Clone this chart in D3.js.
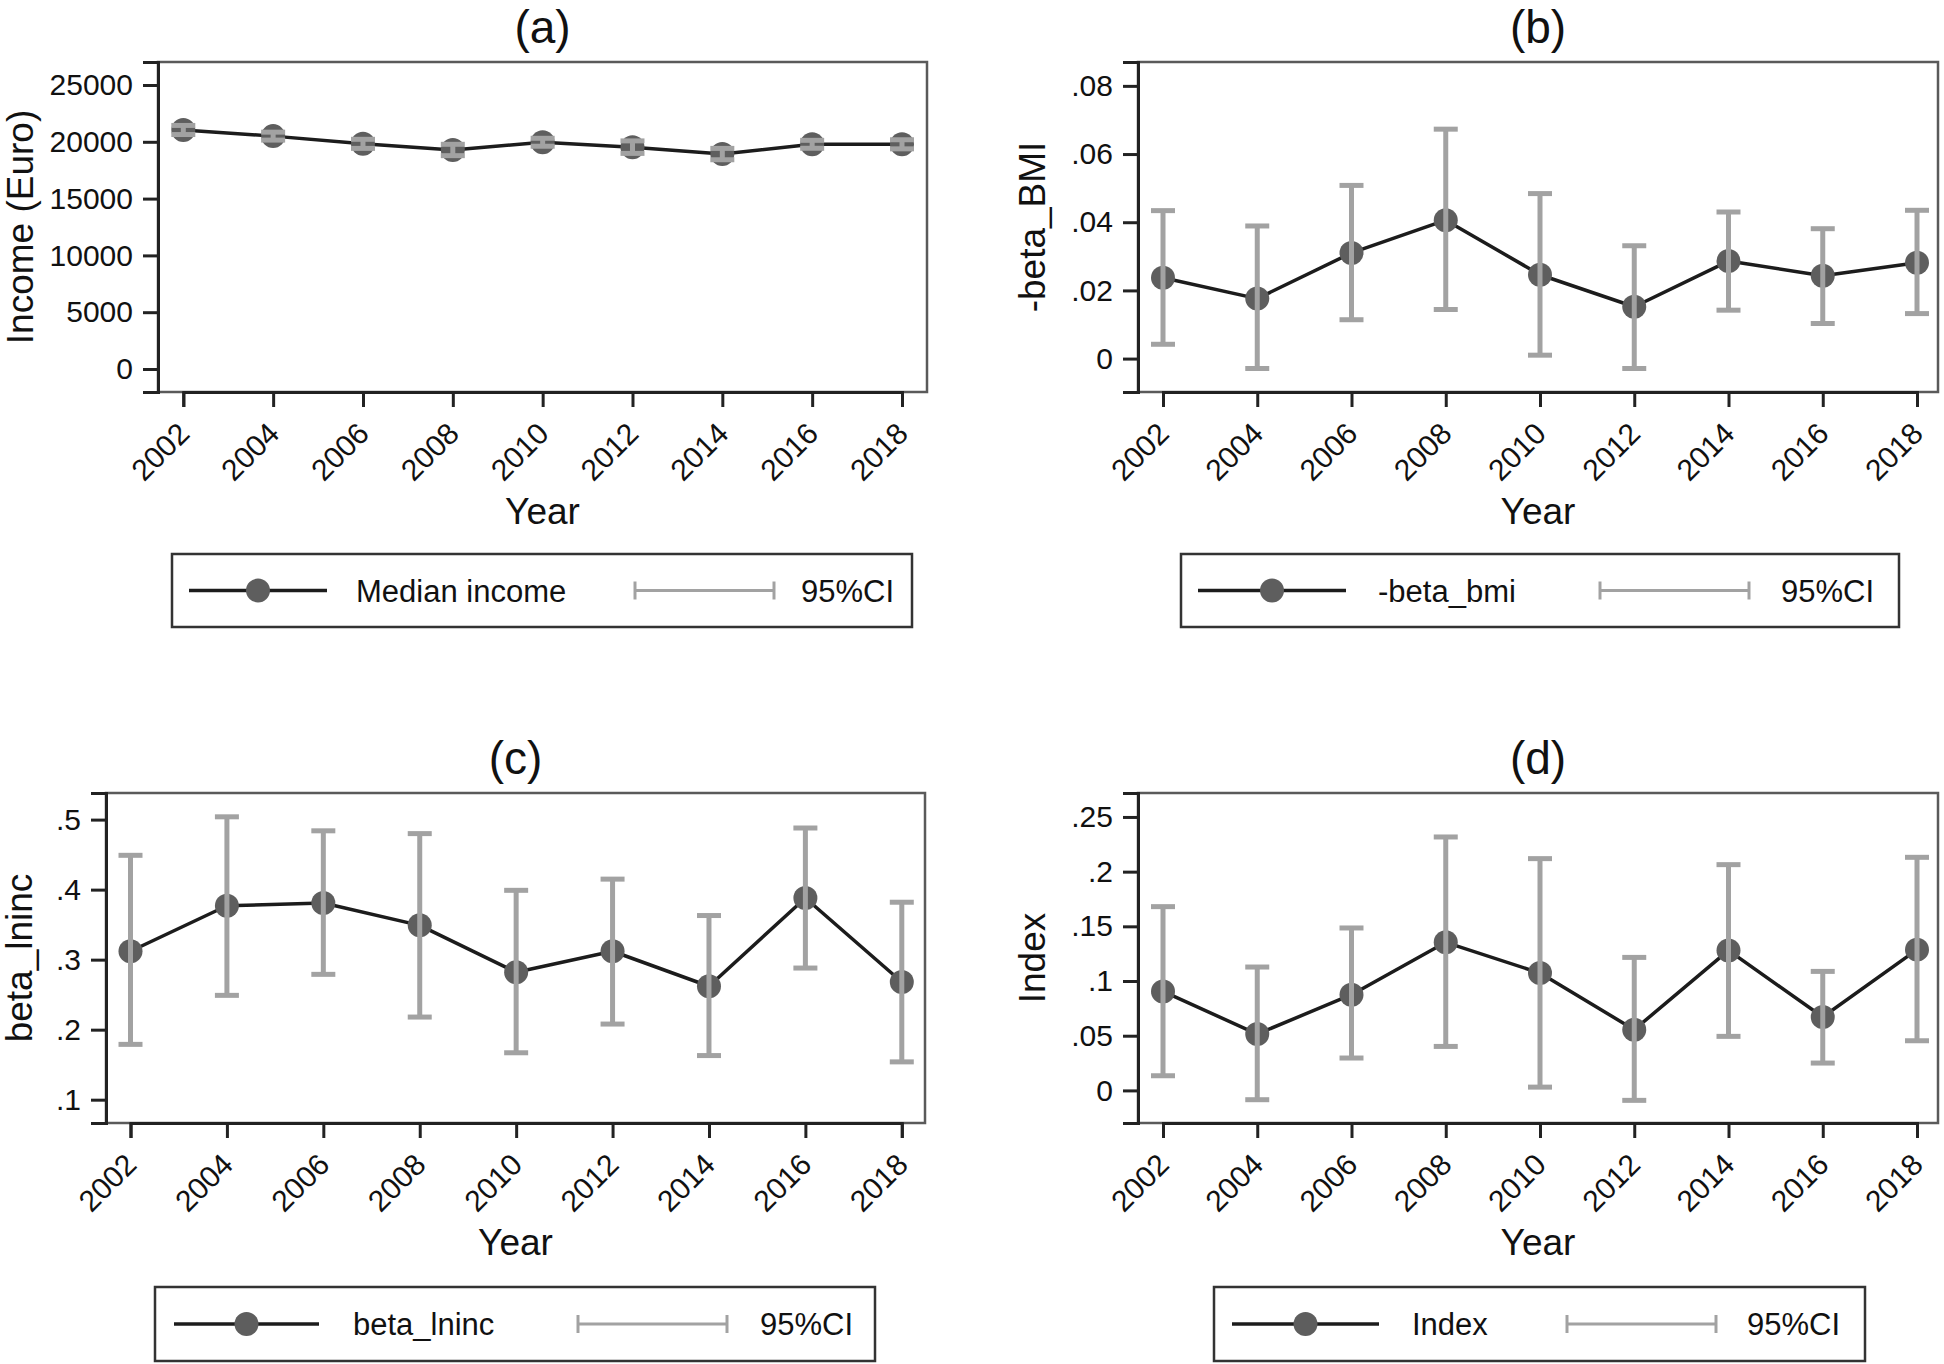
<!DOCTYPE html>
<html>
<head>
<meta charset="utf-8">
<script src="https://cdn.jsdelivr.net/npm/d3@7"></script>
<style>
  html, body { margin: 0; padding: 0; background: #fff; }
  svg { display: block; }
  text { font-family: "Liberation Sans", Arial, Helvetica, sans-serif; fill: #111; }
</style>
</head>
<body>
<svg id="chart" width="1944" height="1364"></svg>
<script>
// ---------------- DATA ----------------
const years = [2002, 2004, 2006, 2008, 2010, 2012, 2014, 2016, 2018];
const yearLabels = ["2002","2004","2006","2008","2010","2012","2014","2016","2018"];

// (a) Median income
const incomeMedian = [21040, 20500, 19820, 19280, 19960, 19530, 18920, 19780, 19780];
const incomeLo     = [20640, 20150, 19420, 18780, 19610, 18980, 18420, 19430, 19380];
const incomeHi     = [21440, 20850, 20220, 19780, 20310, 20080, 19420, 20130, 20180];
const incomeTicks  = [0, 5000, 10000, 15000, 20000, 25000];
const incomeTickLabels = ["0","5000","10000","15000","20000","25000"];

// (b) -beta_bmi
const bmiBeta = [0.0237, 0.0176, 0.0310, 0.0406, 0.0246, 0.0152, 0.0286, 0.0243, 0.0281];
const bmiLo   = [0.0042, -0.0029, 0.0114, 0.0144, 0.0010, -0.0029, 0.0142, 0.0103, 0.0132];
const bmiHi   = [0.0434, 0.0389, 0.0508, 0.0673, 0.0484, 0.0331, 0.0430, 0.0381, 0.0435];
const bmiTicks = [0, 0.02, 0.04, 0.06, 0.08];
const bmiTickLabels = ["0", ".02", ".04", ".06", ".08"];

// (c) beta_lninc
const lnincBeta = [0.312, 0.377, 0.381, 0.349, 0.282, 0.312, 0.262, 0.388, 0.268];
const lnincLo   = [0.179, 0.249, 0.279, 0.218, 0.167, 0.208, 0.163, 0.288, 0.154];
const lnincHi   = [0.449, 0.504, 0.484, 0.480, 0.399, 0.415, 0.363, 0.488, 0.382];
const lnincTicks = [0.1, 0.2, 0.3, 0.4, 0.5];
const lnincTickLabels = [".1", ".2", ".3", ".4", ".5"];

// (d) Index
const indexVal = [0.0905, 0.0515, 0.0875, 0.1354, 0.1073, 0.0555, 0.1280, 0.0671, 0.1287];
const indexLo  = [0.0134, -0.0085, 0.0296, 0.0402, 0.0030, -0.0091, 0.0494, 0.0250, 0.0454];
const indexHi  = [0.1680, 0.1128, 0.1485, 0.2317, 0.2119, 0.1216, 0.2064, 0.1088, 0.2131];
const indexTicks = [0, 0.05, 0.10, 0.15, 0.20, 0.25];
const indexTickLabels = ["0", ".05", ".1", ".15", ".2", ".25"];

const panelTitles = ["(a)", "(b)", "(c)", "(d)"];
const yTitles = ["Income (Euro)", "-beta_BMI", "beta_lninc", "Index"];
const seriesNames = ["Median income", "-beta_bmi", "beta_lninc", "Index"];
const ciName = "95%CI";
const xTitle = "Year";

// ---------------- LAYOUT ----------------
const panels = [
  { title: panelTitles[0], yTitle: yTitles[0], name: seriesNames[0],
    est: incomeMedian, lo: incomeLo, hi: incomeHi, ticks: incomeTicks, tickLabels: incomeTickLabels,
    yDomain: [-2025, 27025],
    box: [158, 62, 927, 392], xr: [183.3, 902], yTitleX: 20,
    leg: { box: [172, 554, 912, 627], k1: [189, 327], t1: 356, k2: [635, 774], t2: 801 } },
  { title: panelTitles[1], yTitle: yTitles[1], name: seriesNames[1],
    est: bmiBeta, lo: bmiLo, hi: bmiHi, ticks: bmiTicks, tickLabels: bmiTickLabels,
    yDomain: [-0.0098, 0.0870],
    box: [1138, 62, 1938, 392], xr: [1163, 1917], yTitleX: 1032,
    leg: { box: [1181, 554, 1899, 627], k1: [1198, 1346], t1: 1378, k2: [1600, 1749], t2: 1781 } },
  { title: panelTitles[2], yTitle: yTitles[2], name: seriesNames[2],
    est: lnincBeta, lo: lnincLo, hi: lnincHi, ticks: lnincTicks, tickLabels: lnincTickLabels,
    yDomain: [0.0667, 0.538],
    box: [106, 793, 925, 1123], xr: [130.5, 901.8], yTitleX: 19,
    leg: { box: [155, 1287, 875, 1361], k1: [174, 319], t1: 353, k2: [578, 727], t2: 760 } },
  { title: panelTitles[3], yTitle: yTitles[3], name: seriesNames[3],
    est: indexVal, lo: indexLo, hi: indexHi, ticks: indexTicks, tickLabels: indexTickLabels,
    yDomain: [-0.0298, 0.2719],
    box: [1138, 793, 1938, 1123], xr: [1163, 1917], yTitleX: 1032,
    leg: { box: [1214, 1287, 1865, 1361], k1: [1232, 1379], t1: 1412, k2: [1567, 1716], t2: 1747 } }
];

const COL_LINE = "#1c1c1c";
const COL_MARK = "#5e5e5e";
const COL_CI = "#a2a2a2";
const COL_AXIS = "#222";
const COL_BORDER = "#5a5a5a";

const svg = d3.select("#chart");

panels.forEach(p => {
  const [L, T, R, B] = p.box;
  const x = d3.scaleLinear().domain([years[0], years[years.length - 1]]).range(p.xr);
  const y = d3.scaleLinear().domain(p.yDomain).range([B, T]);
  const g = svg.append("g");

  // plot region border
  g.append("rect").attr("x", L).attr("y", T).attr("width", R - L).attr("height", B - T)
    .attr("fill", "#fff").attr("stroke", COL_BORDER).attr("stroke-width", 2.5);

  // y axis
  const yAxis = d3.axisLeft(y).tickValues(p.ticks).tickSize(15).tickPadding(10)
    .tickFormat((d, i) => p.tickLabels[i]);
  const ya = g.append("g").attr("transform", `translate(${L},0)`).call(yAxis);
  ya.select(".domain").attr("stroke", COL_AXIS).attr("stroke-width", 3);
  ya.selectAll(".tick line").attr("stroke", COL_AXIS).attr("stroke-width", 3);
  ya.selectAll(".tick text").attr("font-size", 30).attr("fill", "#111")
    .attr("font-family", '"Liberation Sans", Arial, sans-serif');

  // x axis
  const xAxis = d3.axisBottom(x).tickValues(years).tickSize(15)
    .tickFormat((d, i) => yearLabels[i]);
  const xa = g.append("g").attr("transform", `translate(0,${B})`).call(xAxis);
  xa.select(".domain").attr("stroke", COL_AXIS).attr("stroke-width", 3);
  xa.selectAll(".tick line").attr("stroke", COL_AXIS).attr("stroke-width", 3);
  xa.selectAll(".tick text").attr("font-size", 30).attr("fill", "#111")
    .attr("font-family", '"Liberation Sans", Arial, sans-serif')
    .attr("text-anchor", "end")
    .attr("x", 0).attr("y", 0).attr("dy", "0.35em")
    .attr("transform", "translate(0,36) rotate(-45)");

  // connecting line
  const pts = years.map((yr, i) => [yr, p.est[i]]);
  g.append("path").datum(pts)
    .attr("d", d3.line().x(d => x(d[0])).y(d => y(d[1])))
    .attr("fill", "none").attr("stroke", COL_LINE).attr("stroke-width", 3.5)
    .attr("stroke-linejoin", "round");

  // markers
  g.selectAll("circle.m").data(pts).enter().append("circle")
    .attr("class", "m").attr("cx", d => x(d[0])).attr("cy", d => y(d[1])).attr("r", 12)
    .attr("fill", COL_MARK);

  // CI bars (drawn on top)
  const ci = years.map((yr, i) => ({ yr, lo: p.lo[i], hi: p.hi[i] }));
  const cg = g.append("g").attr("stroke", COL_CI);
  cg.selectAll("line.v").data(ci).enter().append("line")
    .attr("x1", d => x(d.yr)).attr("x2", d => x(d.yr))
    .attr("y1", d => y(d.lo)).attr("y2", d => y(d.hi)).attr("stroke-width", 5);
  cg.selectAll("line.c1").data(ci).enter().append("line")
    .attr("x1", d => x(d.yr) - 12).attr("x2", d => x(d.yr) + 12)
    .attr("y1", d => y(d.lo)).attr("y2", d => y(d.lo)).attr("stroke-width", 5);
  cg.selectAll("line.c2").data(ci).enter().append("line")
    .attr("x1", d => x(d.yr) - 12).attr("x2", d => x(d.yr) + 12)
    .attr("y1", d => y(d.hi)).attr("y2", d => y(d.hi)).attr("stroke-width", 5);

  // panel title
  g.append("text").attr("x", (L + R) / 2).attr("y", T - 19)
    .attr("text-anchor", "middle").attr("font-size", 46).text(p.title);

  // y title
  g.append("text").attr("transform", `translate(${p.yTitleX},${(T + B) / 2}) rotate(-90)`)
    .attr("text-anchor", "middle").attr("dy", "0.35em").attr("font-size", 37).text(p.yTitle);

  // x title
  g.append("text").attr("x", (L + R) / 2).attr("y", B + 132)
    .attr("text-anchor", "middle").attr("font-size", 37).text(xTitle);

  // legend
  const lg = p.leg;
  const [lL, lT, lR, lB] = lg.box;
  const cy = (lT + lB) / 2;
  g.append("rect").attr("x", lL).attr("y", lT).attr("width", lR - lL).attr("height", lB - lT)
    .attr("fill", "#fff").attr("stroke", "#333").attr("stroke-width", 2.5);
  g.append("line").attr("x1", lg.k1[0]).attr("x2", lg.k1[1]).attr("y1", cy).attr("y2", cy)
    .attr("stroke", COL_LINE).attr("stroke-width", 3.5);
  g.append("circle").attr("cx", (lg.k1[0] + lg.k1[1]) / 2).attr("cy", cy).attr("r", 12).attr("fill", COL_MARK);
  g.append("text").attr("x", lg.t1).attr("y", cy).attr("dy", "0.36em").attr("font-size", 31).text(p.name);
  g.append("line").attr("x1", lg.k2[0]).attr("x2", lg.k2[1]).attr("y1", cy).attr("y2", cy)
    .attr("stroke", COL_CI).attr("stroke-width", 3);
  [lg.k2[0], lg.k2[1]].forEach(xx => {
    g.append("line").attr("x1", xx).attr("x2", xx).attr("y1", cy - 9).attr("y2", cy + 9)
      .attr("stroke", COL_CI).attr("stroke-width", 3);
  });
  g.append("text").attr("x", lg.t2).attr("y", cy).attr("dy", "0.36em").attr("font-size", 31).text(ciName);
});
</script>
</body>
</html>
